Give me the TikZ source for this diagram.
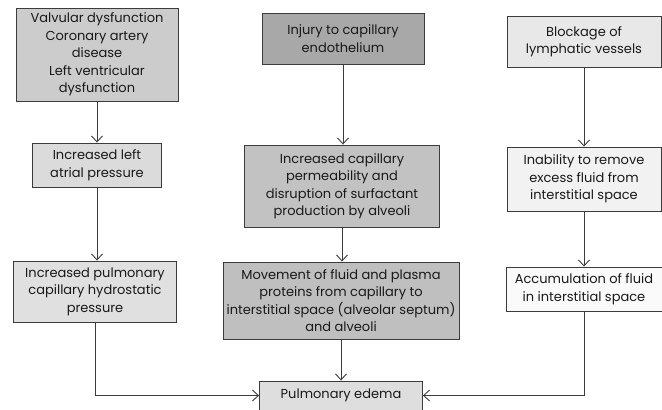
\documentclass[tikz,border=0pt]{standalone}
\usepackage{fontspec}
\setmainfont{Poppins}
\usetikzlibrary{positioning, arrows.meta}
\definecolor{edge}{HTML}{3C3C3C}
\tikzset{
	box/.style={
		rectangle,
		draw=edge,
		line width=0.9pt,
		align=center,
		inner sep=2pt,
		text=black!90,
		font=\fontsize{13}{17.5}\selectfont,
	},
	link/.style={
		draw=edge,
		line width=0.9pt,
	},
}

\begin{document}
\begin{tikzpicture}[x=1pt, y=-1pt, >={Straight Barb[length=6pt, width=11pt]}]
		\useasboundingbox (0,0) rectangle (662,410);
		% causes
		\node [box, fill=black!20, minimum width=162pt, minimum height=93pt] (valv) at (97,54.5) {Valvular dysfunction\\Coronary artery\\disease\\Left ventricular\\dysfunction};
		\node [box, fill=black!34, minimum width=162pt, minimum height=51pt] (inj) at (343,38.5) {Injury to capillary\\endothelium};
		\node [box, fill=black!9, minimum width=154pt, minimum height=51pt] (block) at (584,41.5) {Blockage of\\lymphatic vessels};
		
		\node [box, fill=black!14, minimum width=129pt, minimum height=44pt] (atr) at (97,165) {Increased left\\atrial pressure};
		\node [box, fill=black!24, minimum width=195pt, minimum height=82pt] (perm) at (342,186) {Increased capillary\\permeability and\\disruption of surfactant\\production by alveoli};
		\node [box, fill=black!5, minimum width=154pt, minimum height=64pt] (unab) at (584,179) {Inability to remove\\excess fluid from\\interstitial space};
		
		\node [box, fill=black!12, minimum width=163pt, minimum height=61pt] (hydro) at (95,291.5) {Increased pulmonary\\capillary hydrostatic\\pressure};
		\node [box, fill=black!25, minimum width=236pt, minimum height=77pt] (move) at (341,300.5) {Movement of fluid and plasma\\proteins from capillary to\\interstitial space (alveolar septum)\\and alveoli};
		\node [box, fill=black!2, minimum width=156pt, minimum height=44pt] (accum) at (584,289) {Accumulation of fluid\\in interstitial space};
		
		\node [box, fill=black!13, minimum width=163pt, minimum height=29pt] (edema) at (341,395.5) {Pulmonary edema};
		
		\draw [link, ->] (valv) to (atr);
		\draw [link, ->] (atr) to (atr |- hydro.north);
		\draw [link, ->] (hydro) |- (edema);
		\draw [link, ->] (inj) to (inj |- perm.north);
		\draw [link, ->] (perm) to (perm |- move.north);
		\draw [link, ->] (move) to (move |- edema.north);
		\draw [link, ->] (block) to (unab);
		\draw [link, ->] (unab) to (accum);
		\draw [link, ->] (accum) |- (edema);
	\end{tikzpicture}
\end{document}
